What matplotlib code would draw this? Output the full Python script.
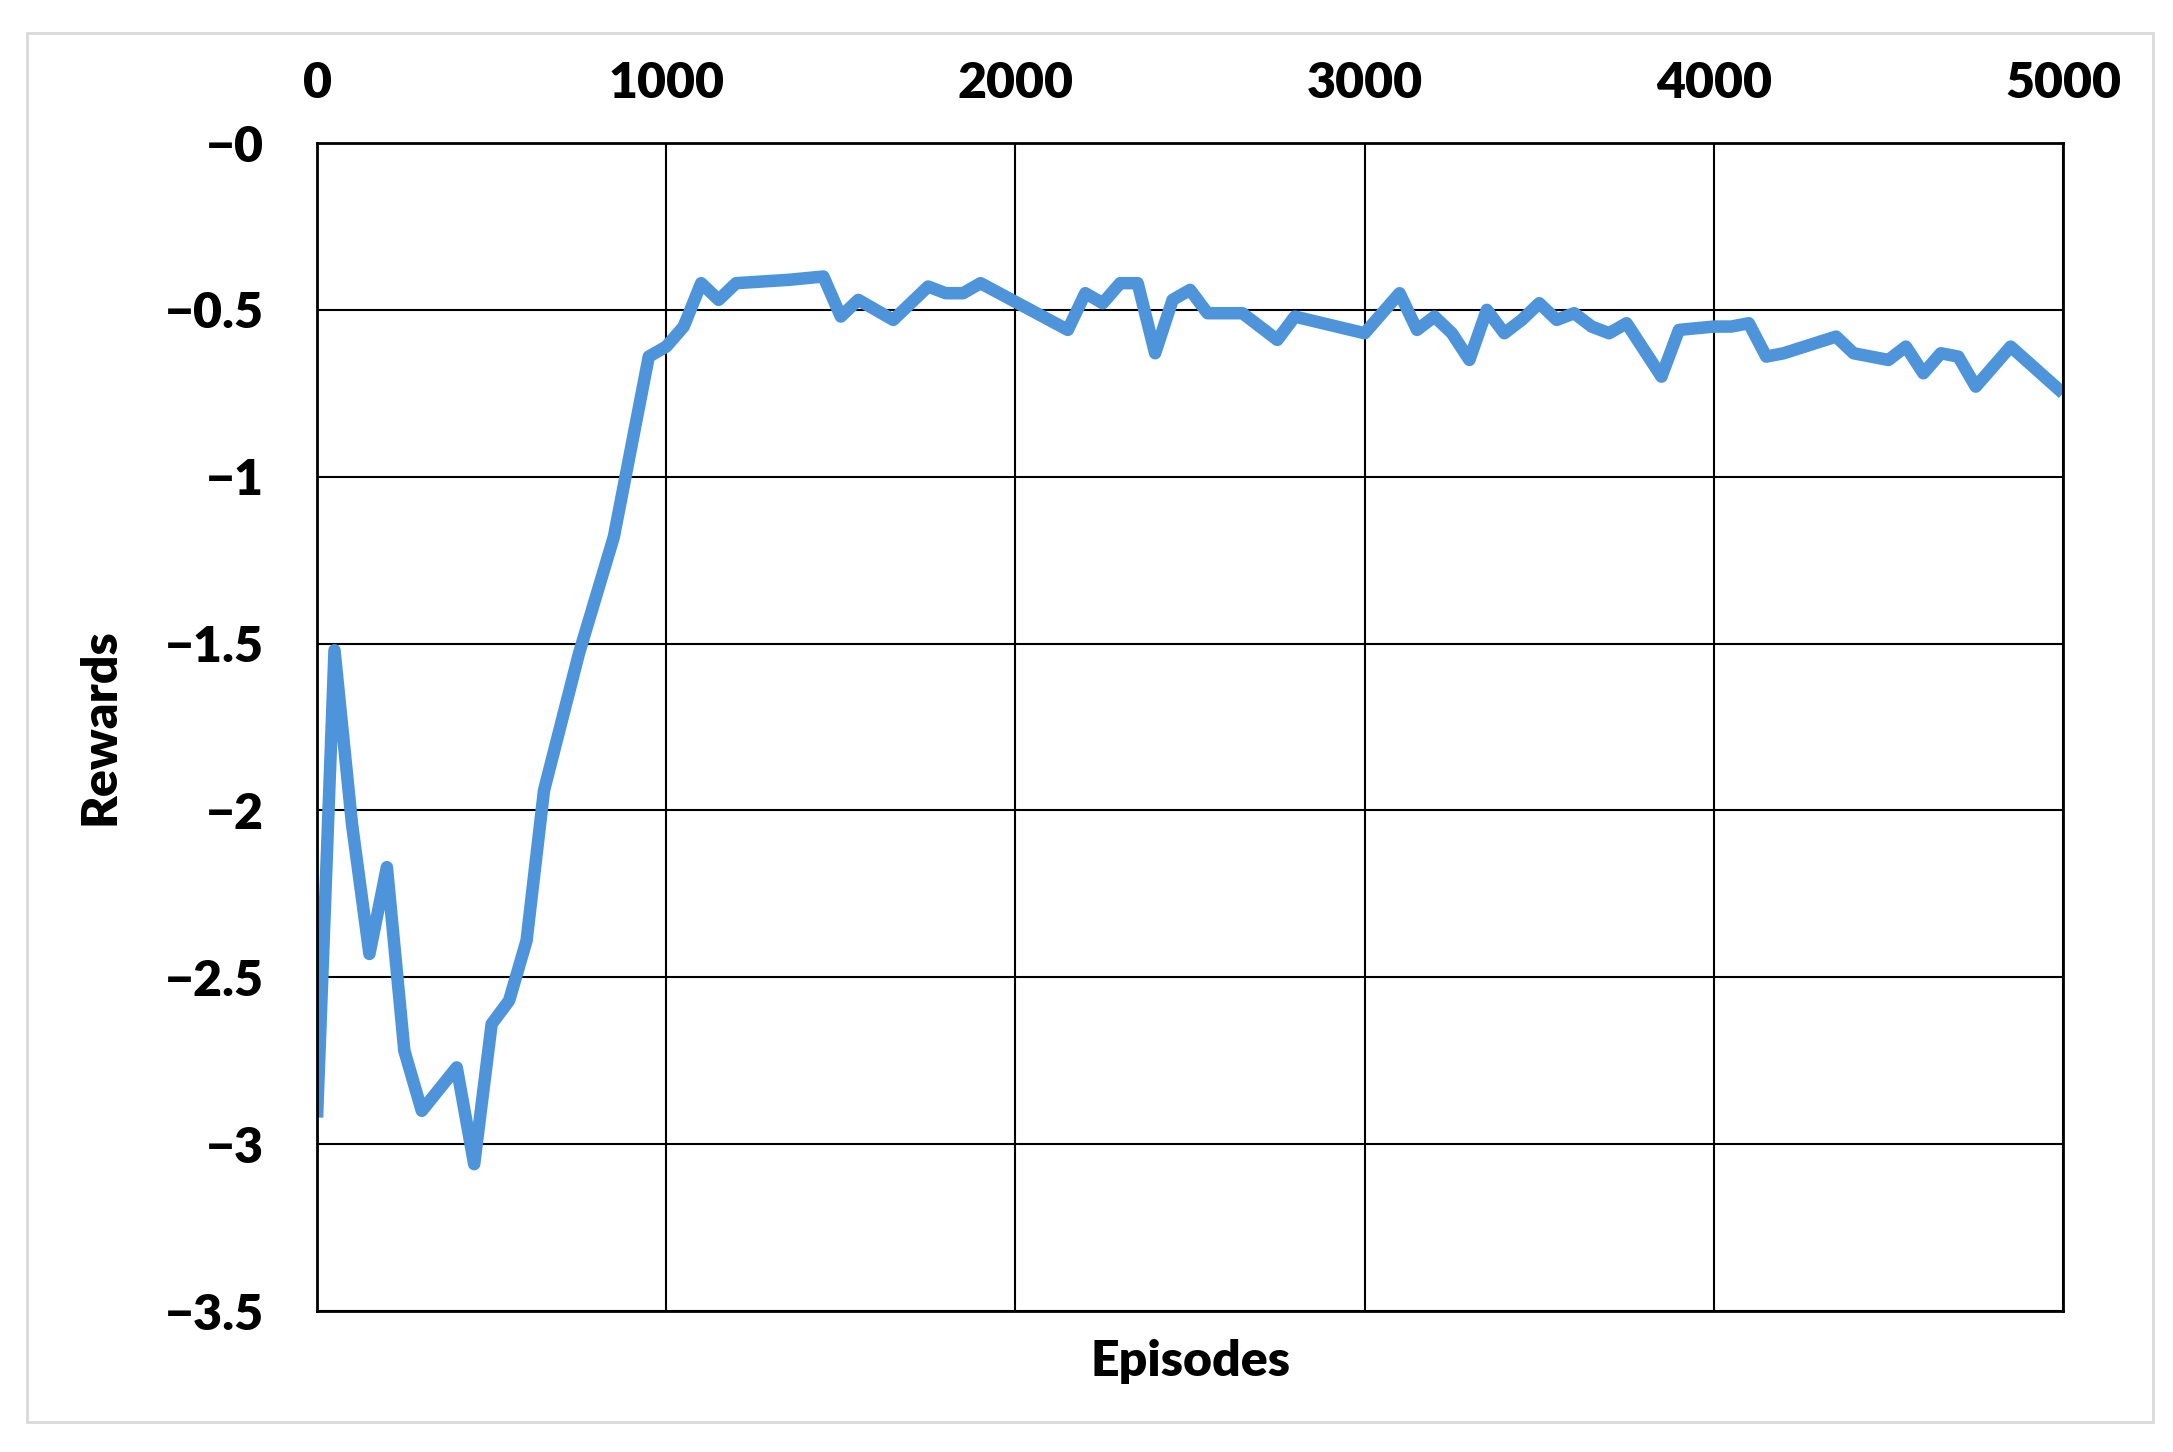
import matplotlib
matplotlib.use("Agg")
import matplotlib.pyplot as plt
from matplotlib.patches import Rectangle

plt.rcParams['font.family'] = ['Lato', 'DejaVu Sans']

# episode / reward readings
episodes = [0, 50, 100, 150, 200, 250, 300, 400, 450, 500, 550, 600, 650, 750, 850,
            950, 1000, 1050, 1100, 1150, 1200, 1350, 1450, 1500, 1550, 1650, 1750,
            1800, 1850, 1900, 2150, 2200, 2250, 2300, 2350, 2400, 2450, 2500, 2550,
            2650, 2750, 2800, 3000, 3100, 3150, 3200, 3250, 3300, 3350, 3400, 3450,
            3500, 3550, 3600, 3650, 3700, 3750, 3850, 3900, 4000, 4050, 4100, 4150,
            4200, 4350, 4400, 4500, 4550, 4600, 4650, 4700, 4750, 4850, 5000]
rewards = [-2.92, -1.52, -2.04, -2.43, -2.17, -2.72, -2.90, -2.77, -3.06, -2.64,
           -2.57, -2.39, -1.94, -1.53, -1.18, -0.64, -0.61, -0.55, -0.42, -0.47,
           -0.42, -0.41, -0.40, -0.52, -0.47, -0.53, -0.43, -0.45, -0.45, -0.42,
           -0.56, -0.45, -0.48, -0.42, -0.42, -0.63, -0.47, -0.44, -0.51, -0.51,
           -0.59, -0.52, -0.57, -0.45, -0.56, -0.52, -0.57, -0.65, -0.50, -0.57,
           -0.53, -0.48, -0.53, -0.51, -0.55, -0.57, -0.54, -0.70, -0.56, -0.55,
           -0.55, -0.54, -0.64, -0.63, -0.58, -0.63, -0.65, -0.61, -0.69, -0.63,
           -0.64, -0.73, -0.61, -0.75]

xticks = [0, 1000, 2000, 3000, 4000, 5000]
yticks = [0, -0.5, -1, -1.5, -2, -2.5, -3, -3.5]
ytick_labels = ['\u22120', '\u22120.5', '\u22121', '\u22121.5', '\u22122', '\u22122.5', '\u22123', '\u22123.5']

fig = plt.figure(figsize=(21.73, 14.52), dpi=100)
fig.patches.append(Rectangle((27 / 2173, 1 - 1422 / 1452), (2153 - 27) / 2173, (1422 - 33) / 1452,
                             transform=fig.transFigure, fill=False, edgecolor='#d9d9d9', linewidth=2))

ax = fig.add_axes([0.1459, 0.0971, 0.8035, 0.8044])
ax.plot(episodes, rewards, color='#4d94da', linewidth=9, solid_joinstyle='round', solid_capstyle='butt')

ax.set_xlim(0, 5000)
ax.set_ylim(-3.5, 0)
ax.set_xticks(xticks)
ax.set_yticks(yticks)
ax.set_yticklabels(ytick_labels)
ax.xaxis.tick_top()
ax.tick_params(axis='both', length=0, labelsize=36)
ax.tick_params(axis='x', pad=27)
ax.tick_params(axis='y', pad=38)
for lbl in ax.get_xticklabels() + ax.get_yticklabels():
    lbl.set_fontweight('heavy')

ax.grid(True, color='black', linewidth=1.5)
for sp in ax.spines.values():
    sp.set_linewidth(2)
    sp.set_color('black')

fig.text(0.5 * (317 + 2063) / 2173, 1 - 1362 / 1452, 'Episodes', ha='center', va='center',
         fontsize=36, fontweight='heavy')
fig.text(100 / 2173, 0.5 * (2 - (143 + 1311) / 1452), 'Rewards', ha='center', va='center',
         rotation=90, fontsize=36, fontweight='heavy')

fig.savefig('out.png', dpi=100)
